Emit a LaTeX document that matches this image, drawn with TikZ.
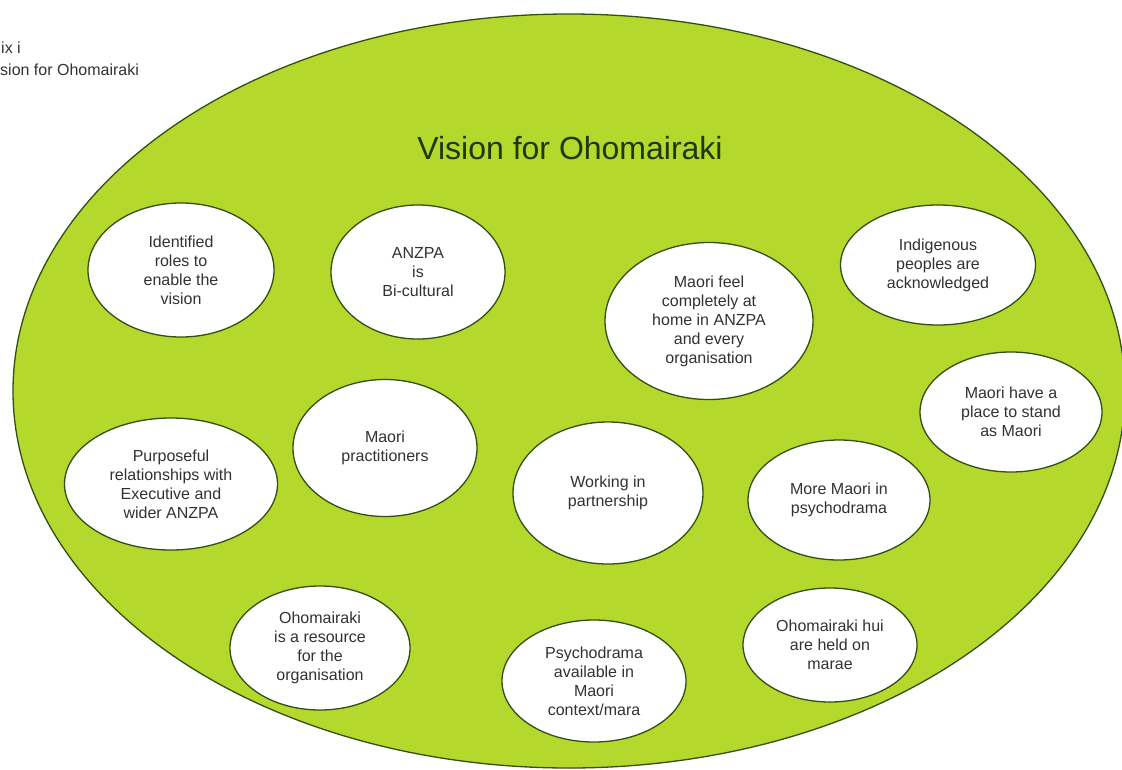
\documentclass[tikz,border=0pt]{standalone}
\usepackage{fontspec}
\setmainfont{Liberation Sans}
\usetikzlibrary{shapes.geometric}
\definecolor{limegreen}{RGB}{180,216,44}
\definecolor{rimgreen}{RGB}{52,78,20}
\definecolor{titlegreen}{RGB}{30,56,12}
\definecolor{inktext}{RGB}{50,50,50}

\begin{document}
\begin{tikzpicture}[x=1pt,y=-1pt,
	bubble/.style={ellipse,draw=rimgreen,line width=1.3pt,fill=white,inner sep=0pt,
		align=center,text=inktext,font=\fontsize{16}{19}\selectfont},
	caption/.style={anchor=west,inner sep=0pt,text=inktext,font=\fontsize{16}{21}\selectfont}]
	\useasboundingbox (0,0) rectangle (1122,769);
	
	%heading at the page edge
	\node[caption] (capa) at (1,48) {ix i};
	\node[caption] (capb) at (0,70) {sion for Ohomairaki};
	
	%big ellipse
	\draw[draw=rimgreen,line width=1.3pt,fill=limegreen] (569,391) ellipse [x radius=556,y radius=377];
	\node[text=titlegreen,font=\fontsize{32}{38}\selectfont] (vision) at (570,148) {Vision for Ohomairaki};
	
	%top row
	\node[bubble,minimum width=186,minimum height=134] (idrole) at (181,270) {Identified\\roles to\\enable the\\vision};
	\node[bubble,minimum width=174,minimum height=134] (bicult) at (418,272) {ANZPA\\is\\Bi-cultural};
	\node[bubble,minimum width=208,minimum height=157] (athome) at (709,321) {Maori feel\\completely at\\home in ANZPA\\and every\\organisation};
	\node[bubble,minimum width=195,minimum height=120] (indig) at (938,265) {Indigenous\\peoples are\\acknowledged};
	\node[bubble,minimum width=182,minimum height=120] (stand) at (1011,412) {Maori have a\\place to stand\\as Maori};
	
	%middle row
	\node[bubble,minimum width=213,minimum height=132] (purpose) at (171,484) {Purposeful\\relationships with\\Executive and\\wider ANZPA};
	\node[bubble,minimum width=184,minimum height=137] (pract) at (385,448) {Maori\\practitioners};
	\node[bubble,minimum width=190,minimum height=142] (partner) at (608,493) {Working in\\partnership};
	\node[bubble,minimum width=182,minimum height=120] (moremaori) at (839,500) {More Maori in\\psychodrama};
	
	%bottom row
	\node[bubble,minimum width=180,minimum height=124] (resource) at (320,648) {Ohomairaki\\is a resource\\for the\\organisation};
	\node[bubble,minimum width=184,minimum height=122] (context) at (594,681) {Psychodrama\\available in\\Maori\\context/mara};
	\node[bubble,minimum width=174,minimum height=114] (hui) at (830,645) {Ohomairaki hui\\are held on\\marae};
\end{tikzpicture}
\end{document}
